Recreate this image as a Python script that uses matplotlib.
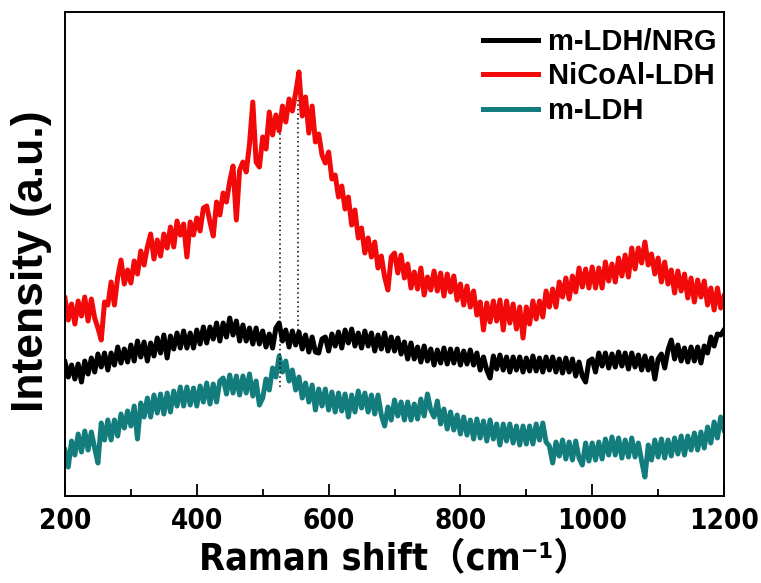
import matplotlib
matplotlib.use('Agg')
import matplotlib.pyplot as plt
import numpy as np

# Raman shift axis, one reading every 5 cm-1
shift = np.arange(200, 1201, 5)

# intensities (arbitrary units)
nicoal_ldh = [
    202, 180, 196, 176, 199, 184, 203, 179, 201, 182, 172, 160, 198, 195, 218, 195, 223, 240, 216, 230,
    217, 239, 226, 249, 235, 253, 266, 241, 260, 244, 266, 252, 273, 253, 279, 265, 276, 243, 278, 265,
    282, 269, 292, 294, 278, 264, 298, 285, 307, 298, 319, 334, 280, 330, 338, 328, 356, 398, 338, 333,
    363, 351, 388, 365, 385, 369, 394, 378, 401, 389, 407, 428, 384, 403, 367, 394, 358, 366, 345, 337,
    348, 321, 325, 303, 314, 291, 303, 275, 290, 262, 272, 247, 262, 243, 258, 232, 244, 223, 210, 243,
    247, 227, 245, 222, 236, 212, 228, 211, 232, 205, 223, 210, 229, 209, 227, 204, 226, 208, 224, 200,
    216, 195, 214, 193, 209, 185, 198, 170, 197, 178, 199, 179, 200, 170, 199, 177, 196, 171, 193, 162,
    193, 176, 199, 181, 199, 183, 209, 193, 211, 193, 218, 203, 222, 201, 224, 208, 232, 213, 231, 212,
    233, 212, 232, 212, 238, 219, 236, 218, 242, 224, 245, 223, 252, 231, 252, 237, 258, 235, 246, 226,
    242, 218, 238, 216, 230, 207, 229, 209, 226, 202, 222, 198, 220, 203, 219, 195, 212, 190, 212, 192,
    204]

m_ldh_nrg = [
    138, 123, 135, 121, 136, 118, 139, 126, 142, 128, 146, 133, 147, 130, 147, 135, 153, 137, 151, 138,
    155, 139, 159, 143, 158, 139, 157, 144, 162, 147, 165, 142, 164, 151, 167, 152, 169, 152, 167, 152,
    170, 156, 173, 157, 173, 161, 177, 159, 177, 163, 182, 165, 179, 159, 175, 159, 172, 156, 172, 156,
    169, 153, 166, 152, 172, 177, 159, 170, 153, 169, 155, 168, 151, 165, 148, 163, 148, 147, 161, 163,
    149, 166, 154, 168, 152, 170, 157, 171, 154, 167, 152, 169, 154, 167, 149, 165, 151, 167, 149, 163,
    149, 162, 146, 158, 141, 157, 141, 153, 138, 154, 139, 151, 135, 150, 137, 152, 136, 151, 137, 151,
    135, 149, 136, 150, 135, 147, 130, 143, 130, 122, 144, 131, 145, 130, 143, 128, 143, 130, 143, 128,
    142, 129, 144, 129, 142, 128, 143, 130, 143, 128, 141, 127, 142, 128, 141, 124, 138, 124, 118, 139,
    141, 128, 147, 134, 147, 132, 146, 133, 148, 134, 147, 131, 147, 133, 145, 130, 144, 130, 142, 121,
    141, 146, 132, 150, 160, 141, 155, 139, 152, 138, 153, 139, 153, 137, 154, 147, 163, 154, 166, 165,
    170]

m_ldh = [
    50, 33, 59, 45, 66, 48, 69, 50, 68, 52, 37, 77, 60, 80, 60, 80, 64, 86, 72, 89,
    74, 94, 61, 97, 83, 102, 83, 105, 87, 106, 86, 107, 88, 109, 94, 113, 94, 113, 95, 112,
    94, 114, 98, 117, 96, 116, 98, 119, 122, 106, 125, 107, 124, 105, 124, 107, 126, 104, 119, 95,
    102, 121, 110, 132, 123, 144, 128, 139, 119, 130, 110, 123, 102, 117, 98, 115, 90, 111, 94, 111,
    90, 108, 88, 107, 89, 106, 83, 105, 88, 109, 92, 107, 88, 105, 86, 105, 85, 74, 93, 80,
    100, 84, 98, 80, 98, 80, 96, 81, 101, 84, 106, 90, 83, 99, 76, 91, 71, 88, 70, 85,
    66, 83, 65, 80, 61, 81, 62, 79, 59, 80, 61, 76, 55, 76, 59, 76, 57, 74, 55, 74,
    56, 74, 56, 76, 60, 77, 58, 54, 37, 58, 44, 60, 41, 58, 40, 59, 42, 35, 57, 39,
    57, 40, 58, 41, 61, 45, 63, 45, 62, 42, 60, 43, 62, 43, 57, 39, 23, 55, 40, 60,
    43, 61, 42, 60, 44, 62, 46, 64, 45, 64, 50, 67, 50, 68, 52, 73, 57, 78, 62, 83,
    70]

labels = ['m-LDH/NRG', 'NiCoAl-LDH', 'm-LDH']
colors = ['black', '#f20a0a', '#137d7d']

# dotted guide lines at the two peak positions
peak_pos = [526, 554]
peak_low = [113, 165]
peak_high = [370, 400]

fig = plt.figure(figsize=(7.61, 5.83), dpi=100)
ax = fig.add_axes([0.0854, 0.1492, 0.866, 0.8302])

for y, lab, c in zip([m_ldh_nrg, nicoal_ldh, m_ldh], labels, colors):
    ax.plot(shift, y, color=c, lw=3.6, label=lab, solid_joinstyle='round')

ax.vlines(peak_pos, peak_low, peak_high, colors='black', linestyles=(0, (1, 2)), lw=1.1)

ax.set_xlim(200, 1200)
ax.set_ylim(4, 488)
ax.set_yticks([])
ax.set_xticks(range(200, 1201, 200))
ax.set_xticks(range(300, 1200, 200), minor=True)
ax.tick_params(axis='x', which='major', direction='in', length=9, width=1.3, pad=8)
ax.tick_params(axis='x', which='minor', direction='in', length=5, width=1.3)
for s in ax.spines.values():
    s.set_linewidth(1.4)

for t in ax.get_xticklabels():
    t.set_family(['DejaVu Sans'])
    t.set_fontstretch('condensed')
    t.set_fontweight('bold')
    t.set_fontsize(20)

ax.set_xlabel('Raman shift\uff08cm\u207b\u00b9\uff09', fontsize=27, fontweight='bold',
              fontstretch='condensed', family=['DejaVu Sans', 'Noto Sans CJK SC'], labelpad=5)
ax.set_ylabel('Intensity (a.u.)', fontsize=32, fontweight='bold',
              family=['Liberation Sans', 'DejaVu Sans'])
ax.yaxis.set_label_coords(-0.02, 0.485)

leg = ax.legend(loc='upper right', bbox_to_anchor=(0.989, 0.967), frameon=False,
                handlelength=1.9, handletextpad=0.35, labelspacing=0.22,
                borderaxespad=0, borderpad=0,
                prop={'family': ['Liberation Sans', 'DejaVu Sans'], 'weight': 'bold', 'size': 21})

fig.savefig('out.png', dpi=100)
